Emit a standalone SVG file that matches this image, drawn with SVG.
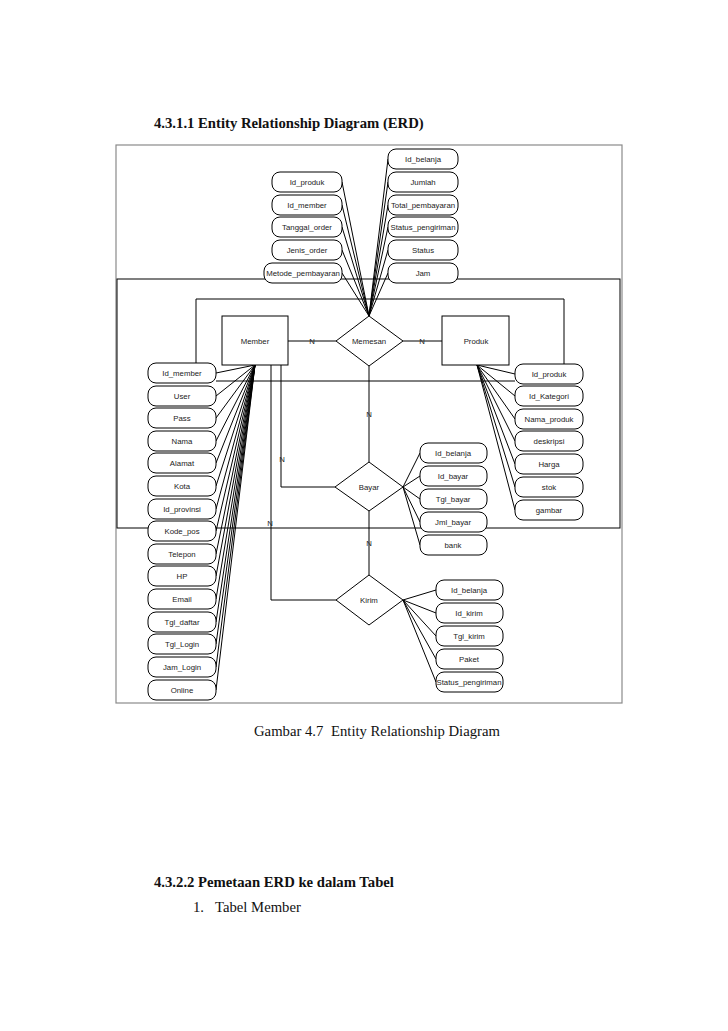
<svg xmlns="http://www.w3.org/2000/svg" width="728" height="1031" viewBox="0 0 728 1031">
<style>
.doc{font-family:"Liberation Serif","Times New Roman",serif;fill:#111}
.h{font-weight:bold;font-size:14.7px}
.c{font-size:14.7px}
.ln{stroke:#000;stroke-width:1;fill:none}
.attr rect{fill:#fff;stroke:#000;stroke-width:1}
.shape{fill:#fff;stroke:#000;stroke-width:1}
.t{font-family:"Liberation Sans",Arial,sans-serif;font-size:7.8px;fill:#222;text-anchor:middle}
</style>
<rect width="728" height="1031" fill="#fff"/>
<text class="doc h" x="154" y="128">4.3.1.1 Entity Relationship Diagram (ERD)</text>
<rect x="116" y="145" width="506" height="558" fill="none" stroke="#8a8a8a" stroke-width="1.2"/>
<rect x="117" y="279" width="503" height="249" fill="none" stroke="#000" stroke-width="1"/>
<g id="connectors" class="ln">
<line x1="342" y1="182" x2="369" y2="316"/>
<line x1="342" y1="205" x2="369" y2="316"/>
<line x1="342" y1="227" x2="369" y2="316"/>
<line x1="342" y1="250" x2="369" y2="316"/>
<line x1="342" y1="273" x2="369" y2="316"/>
<line x1="388" y1="159" x2="369" y2="316"/>
<line x1="388" y1="182" x2="369" y2="316"/>
<line x1="388" y1="205" x2="369" y2="316"/>
<line x1="388" y1="227" x2="369" y2="316"/>
<line x1="388" y1="250" x2="369" y2="316"/>
<line x1="388" y1="273" x2="369" y2="316"/>
<polyline points="196,363 196,299 564,299 564,364"/>
<line x1="216" y1="381" x2="515" y2="381"/>
<line x1="288" y1="341" x2="336" y2="341"/>
<line x1="403" y1="341" x2="442" y2="341"/>
<line x1="369" y1="366" x2="369" y2="462"/>
<line x1="369" y1="511" x2="369" y2="575"/>
<polyline points="281,365 281,487 335,487"/>
<polyline points="271,365 271,600 336,600"/>
<line x1="216" y1="373" x2="255" y2="365"/>
<line x1="216" y1="396" x2="255" y2="365"/>
<line x1="216" y1="418" x2="255" y2="365"/>
<line x1="216" y1="441" x2="255" y2="365"/>
<line x1="216" y1="463" x2="255" y2="365"/>
<line x1="216" y1="486" x2="255" y2="365"/>
<line x1="216" y1="509" x2="255" y2="365"/>
<line x1="216" y1="531" x2="255" y2="365"/>
<line x1="216" y1="554" x2="255" y2="365"/>
<line x1="216" y1="576" x2="255" y2="365"/>
<line x1="216" y1="599" x2="255" y2="365"/>
<line x1="216" y1="622" x2="255" y2="365"/>
<line x1="216" y1="644" x2="255" y2="365"/>
<line x1="216" y1="667" x2="255" y2="365"/>
<line x1="216" y1="690" x2="255" y2="365"/>
<line x1="515" y1="374" x2="477" y2="365"/>
<line x1="515" y1="396" x2="477" y2="365"/>
<line x1="515" y1="419" x2="477" y2="365"/>
<line x1="515" y1="441" x2="477" y2="365"/>
<line x1="515" y1="464" x2="477" y2="365"/>
<line x1="515" y1="487" x2="477" y2="365"/>
<line x1="515" y1="510" x2="477" y2="365"/>
<line x1="420" y1="453" x2="403" y2="487"/>
<line x1="420" y1="476" x2="403" y2="487"/>
<line x1="420" y1="499" x2="403" y2="487"/>
<line x1="420" y1="522" x2="403" y2="487"/>
<line x1="420" y1="545" x2="403" y2="487"/>
<line x1="436" y1="590" x2="403" y2="600"/>
<line x1="436" y1="613" x2="403" y2="600"/>
<line x1="436" y1="636" x2="403" y2="600"/>
<line x1="436" y1="659" x2="403" y2="600"/>
<line x1="436" y1="682" x2="403" y2="600"/>
</g>
<g id="cardinality">
<text class="t" x="312" y="344">N</text>
<text class="t" x="422" y="344">N</text>
<text class="t" x="369" y="417">N</text>
<text class="t" x="369" y="546">N</text>
<text class="t" x="282" y="462">N</text>
<text class="t" x="270" y="526">N</text>
</g>
<g id="Member"><rect class="shape" x="222" y="316" width="66" height="49"/><text class="t" x="255" y="344">Member</text></g>
<g id="Produk"><rect class="shape" x="442" y="316" width="67" height="49"/><text class="t" x="476" y="344">Produk</text></g>
<g id="Memesan"><polygon class="shape" points="336,341 369,316 403,341 369,366"/><text class="t" x="369" y="344">Memesan</text></g>
<g id="Bayar"><polygon class="shape" points="335,487 369,462 403,487 369,511"/><text class="t" x="369" y="490">Bayar</text></g>
<g id="Kirim"><polygon class="shape" points="336,600 369,575 403,600 369,625"/><text class="t" x="369" y="603">Kirim</text></g>
<g id="memesan-attrs" class="attr">
<g id="m-idproduk"><rect x="272" y="172" width="70" height="20" rx="8"/><text class="t" x="307" y="185">Id_produk</text></g>
<g id="m-idmember"><rect x="272" y="195" width="70" height="20" rx="8"/><text class="t" x="307" y="208">Id_member</text></g>
<g id="m-tanggal"><rect x="272" y="217" width="70" height="20" rx="8"/><text class="t" x="307" y="230">Tanggal_order</text></g>
<g id="m-jenis"><rect x="272" y="240" width="70" height="20" rx="8"/><text class="t" x="307" y="253">Jenis_order</text></g>
<g id="m-metode"><rect x="264" y="263" width="78" height="20" rx="8"/><text class="t" x="303" y="276">Metode_pembayaran</text></g>
<g id="m-idbelanja"><rect x="388" y="149" width="70" height="20" rx="8"/><text class="t" x="423" y="162">Id_belanja</text></g>
<g id="m-jumlah"><rect x="388" y="172" width="70" height="20" rx="8"/><text class="t" x="423" y="185">Jumlah</text></g>
<g id="m-total"><rect x="388" y="195" width="70" height="20" rx="8"/><text class="t" x="423" y="208">Total_pembayaran</text></g>
<g id="m-statuspeng"><rect x="388" y="217" width="70" height="20" rx="8"/><text class="t" x="423" y="230">Status_pengiriman</text></g>
<g id="m-status"><rect x="388" y="240" width="70" height="20" rx="8"/><text class="t" x="423" y="253">Status</text></g>
<g id="m-jam"><rect x="388" y="263" width="70" height="20" rx="8"/><text class="t" x="423" y="276">Jam</text></g>
</g>
<g id="member-attrs" class="attr">
<g id="a-idmember"><rect x="148" y="363" width="68" height="20" rx="8"/><text class="t" x="182" y="376">Id_member</text></g>
<g id="a-user"><rect x="148" y="386" width="68" height="20" rx="8"/><text class="t" x="182" y="399">User</text></g>
<g id="a-pass"><rect x="148" y="408" width="68" height="20" rx="8"/><text class="t" x="182" y="421">Pass</text></g>
<g id="a-nama"><rect x="148" y="431" width="68" height="20" rx="8"/><text class="t" x="182" y="444">Nama</text></g>
<g id="a-alamat"><rect x="148" y="453" width="68" height="20" rx="8"/><text class="t" x="182" y="466">Alamat</text></g>
<g id="a-kota"><rect x="148" y="476" width="68" height="20" rx="8"/><text class="t" x="182" y="489">Kota</text></g>
<g id="a-idprov"><rect x="148" y="499" width="68" height="20" rx="8"/><text class="t" x="182" y="512">Id_provinsi</text></g>
<g id="a-kodepos"><rect x="148" y="521" width="68" height="20" rx="8"/><text class="t" x="182" y="534">Kode_pos</text></g>
<g id="a-telepon"><rect x="148" y="544" width="68" height="20" rx="8"/><text class="t" x="182" y="557">Telepon</text></g>
<g id="a-hp"><rect x="148" y="566" width="68" height="20" rx="8"/><text class="t" x="182" y="579">HP</text></g>
<g id="a-email"><rect x="148" y="589" width="68" height="20" rx="8"/><text class="t" x="182" y="602">Email</text></g>
<g id="a-tgldaftar"><rect x="148" y="612" width="68" height="20" rx="8"/><text class="t" x="182" y="625">Tgl_daftar</text></g>
<g id="a-tgllogin"><rect x="148" y="634" width="68" height="20" rx="8"/><text class="t" x="182" y="647">Tgl_Login</text></g>
<g id="a-jamlogin"><rect x="148" y="657" width="68" height="20" rx="8"/><text class="t" x="182" y="670">Jam_Login</text></g>
<g id="a-online"><rect x="148" y="680" width="68" height="20" rx="8"/><text class="t" x="182" y="693">Online</text></g>
</g>
<g id="produk-attrs" class="attr">
<g id="p-idproduk"><rect x="515" y="364" width="68" height="20" rx="8"/><text class="t" x="549" y="377">Id_produk</text></g>
<g id="p-idkat"><rect x="515" y="386" width="68" height="20" rx="8"/><text class="t" x="549" y="399">Id_Kategori</text></g>
<g id="p-nama"><rect x="515" y="409" width="68" height="20" rx="8"/><text class="t" x="549" y="422">Nama_produk</text></g>
<g id="p-desk"><rect x="515" y="431" width="68" height="20" rx="8"/><text class="t" x="549" y="444">deskripsi</text></g>
<g id="p-harga"><rect x="515" y="454" width="68" height="20" rx="8"/><text class="t" x="549" y="467">Harga</text></g>
<g id="p-stok"><rect x="515" y="477" width="68" height="20" rx="8"/><text class="t" x="549" y="490">stok</text></g>
<g id="p-gambar"><rect x="515" y="500" width="68" height="20" rx="8"/><text class="t" x="549" y="513">gambar</text></g>
</g>
<g id="bayar-attrs" class="attr">
<g id="b-idbelanja"><rect x="420" y="443" width="67" height="20" rx="8"/><text class="t" x="453" y="456">Id_belanja</text></g>
<g id="b-idbayar"><rect x="420" y="466" width="67" height="20" rx="8"/><text class="t" x="453" y="479">Id_bayar</text></g>
<g id="b-tglbayar"><rect x="420" y="489" width="67" height="20" rx="8"/><text class="t" x="453" y="502">Tgl_bayar</text></g>
<g id="b-jmlbayar"><rect x="420" y="512" width="67" height="20" rx="8"/><text class="t" x="453" y="525">Jml_bayar</text></g>
<g id="b-bank"><rect x="420" y="535" width="67" height="20" rx="8"/><text class="t" x="453" y="548">bank</text></g>
</g>
<g id="kirim-attrs" class="attr">
<g id="k-idbelanja"><rect x="436" y="580" width="67" height="20" rx="8"/><text class="t" x="469" y="593">Id_belanja</text></g>
<g id="k-idkirim"><rect x="436" y="603" width="67" height="20" rx="8"/><text class="t" x="469" y="616">Id_kirim</text></g>
<g id="k-tglkirim"><rect x="436" y="626" width="67" height="20" rx="8"/><text class="t" x="469" y="639">Tgl_kirim</text></g>
<g id="k-paket"><rect x="436" y="649" width="67" height="20" rx="8"/><text class="t" x="469" y="662">Paket</text></g>
<g id="k-status"><rect x="436" y="672" width="67" height="20" rx="8"/><text class="t" x="469" y="685">Status_pengiriman</text></g>
</g>
<text class="doc c" x="254" y="736">Gambar 4.7<tspan x="331">Entity Relationship Diagram</tspan></text>
<text class="doc h" x="154" y="887">4.3.2.2 Pemetaan ERD ke dalam Tabel</text>
<text class="doc c" x="193" y="912">1.<tspan x="215">Tabel Member</tspan></text>
</svg>
